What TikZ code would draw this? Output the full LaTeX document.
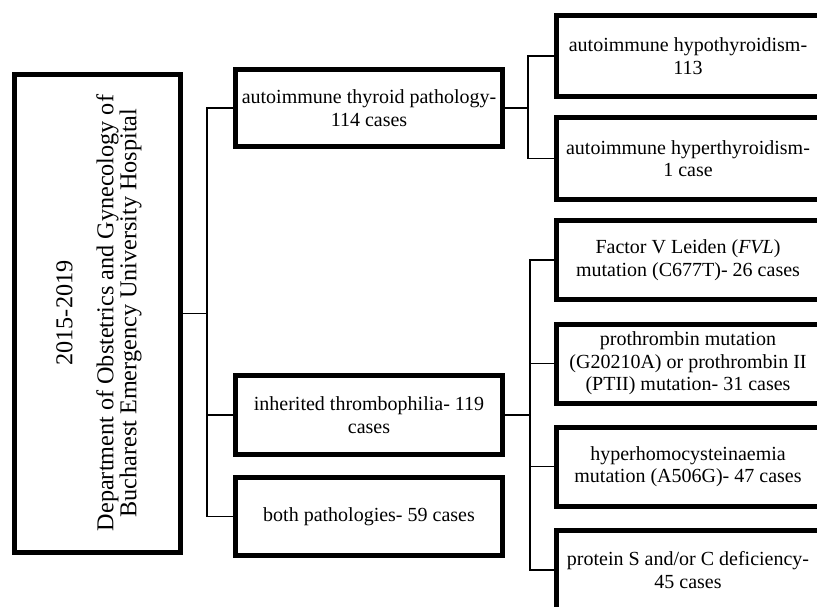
\documentclass[tikz,border=0pt]{standalone}
\usepackage{fontspec}
\setmainfont{Liberation Serif}
\begin{document}
\begin{tikzpicture}[x=1pt,y=-1pt,
  box/.style={draw, line width=5pt, inner sep=0pt, align=center,
    font=\fontsize{20}{22.5}\selectfont, text=black},
  midbox/.style={box, minimum width=267pt},
  leafbox/.style={box, minimum width=263pt, minimum height=79pt},
  conn/.style={line width=1.3pt}]
\useasboundingbox (0,0) rectangle (817,607);
\clip (0,0) rectangle (817,607);
% root
\node[draw, line width=5pt, minimum width=166pt, minimum height=478pt, inner sep=0pt] (root) at (97.5,313.5) {};
\node[rotate=90, align=center, inner sep=0pt, text=black,
  font=\fontsize{24.2}{20.5}\selectfont] (roottext) at (99,313)
  {2015-2019\\[20.5pt]Department of Obstetrics and Gynecology of\\Bucharest Emergency University Hospital};
% middle column
\node[midbox, minimum height=77pt] (A) at (369,108) {autoimmune thyroid pathology-\\114 cases};
\node[midbox, minimum height=79pt] (B) at (369,415) {inherited thrombophilia- 119\\cases};
\node[midbox, minimum height=78pt] (C) at (369,516.5) {both pathologies- 59 cases};
% right column
\node[leafbox, minimum height=81pt] (A1) at (688,56) {autoimmune hypothyroidism-\\113};
\node[leafbox, minimum height=82pt] (A2) at (688,158.5) {autoimmune hyperthyroidism-\\1 case};
\node[leafbox] (B1) at (688,260) {Factor V Leiden (\textit{FVL})\\mutation (C677T)- 26 cases};
\node[leafbox] (B2) at (688,363.5) {prothrombin mutation\\(G20210A) or prothrombin II\\(PTII) mutation- 31 cases};
\node[leafbox] (B3) at (688,466.5) {hyperhomocysteinaemia\\mutation (A506G)- 47 cases};
\node[leafbox] (B4) at (688,570) {protein S and/or C deficiency-\\45 cases};
% connectors
\coordinate (j1) at ([xshift=24pt]root.east);
\draw[conn] (root.east) -- (j1);
\draw[conn] (A.west) -| (j1);
\draw[conn] (B.west) -| (j1);
\draw[conn] (C.west) -| (j1);
\coordinate (j2) at ([xshift=23pt]A.east);
\draw[conn] (A.east) -- (j2);
\draw[conn] (A1.west) -| (j2);
\draw[conn] (A2.west) -| (j2);
\coordinate (j3) at ([xshift=25pt]B.east);
\draw[conn] (B.east) -- (j3);
\draw[conn] (B1.west) -| (j3);
\draw[conn] (B2.west) -| (j3);
\draw[conn] (B3.west) -| (j3);
\draw[conn] (B4.west) -| (j3);
\end{tikzpicture}
\end{document}
